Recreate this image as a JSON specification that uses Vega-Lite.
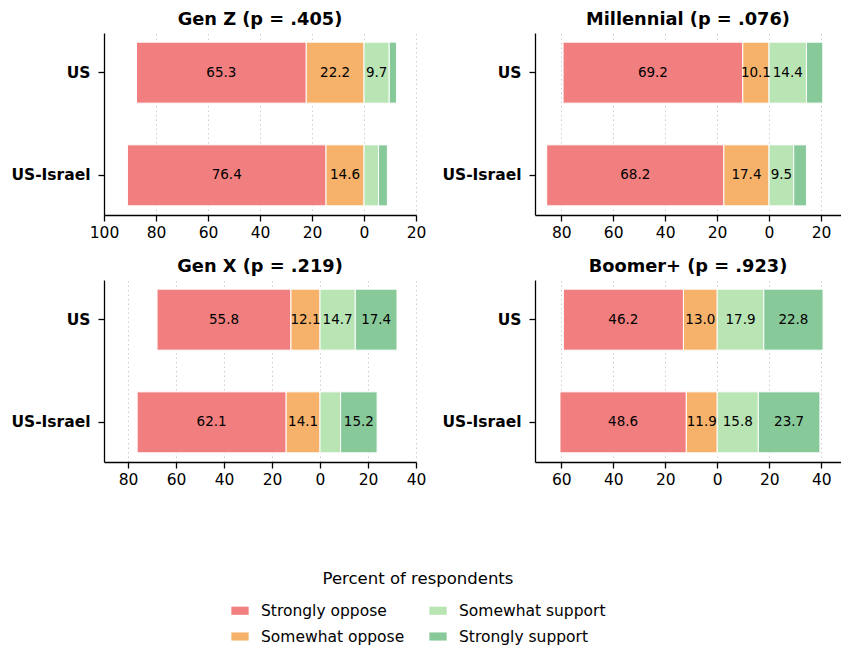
{
  "$schema": "https://vega.github.io/schema/vega-lite/v6.json",
  "padding": {"left": 10, "top": 11, "right": 0, "bottom": 0},
  "background": "white",
  "datasets": {
    "d": [
      {"gen": "Gen Z", "group": "US", "response": "Strongly oppose", "pct": -65.3},
      {"gen": "Gen Z", "group": "US", "response": "Somewhat oppose", "pct": -22.2},
      {"gen": "Gen Z", "group": "US", "response": "Somewhat support", "pct": 9.7},
      {"gen": "Gen Z", "group": "US", "response": "Strongly support", "pct": 2.8},
      {"gen": "Gen Z", "group": "US-Israel", "response": "Strongly oppose", "pct": -76.4},
      {"gen": "Gen Z", "group": "US-Israel", "response": "Somewhat oppose", "pct": -14.6},
      {"gen": "Gen Z", "group": "US-Israel", "response": "Somewhat support", "pct": 5.6},
      {"gen": "Gen Z", "group": "US-Israel", "response": "Strongly support", "pct": 3.4},
      {"gen": "Millennial", "group": "US", "response": "Strongly oppose", "pct": -69.2},
      {"gen": "Millennial", "group": "US", "response": "Somewhat oppose", "pct": -10.1},
      {"gen": "Millennial", "group": "US", "response": "Somewhat support", "pct": 14.4},
      {"gen": "Millennial", "group": "US", "response": "Strongly support", "pct": 6.3},
      {"gen": "Millennial", "group": "US-Israel", "response": "Strongly oppose", "pct": -68.2},
      {"gen": "Millennial", "group": "US-Israel", "response": "Somewhat oppose", "pct": -17.4},
      {"gen": "Millennial", "group": "US-Israel", "response": "Somewhat support", "pct": 9.5},
      {"gen": "Millennial", "group": "US-Israel", "response": "Strongly support", "pct": 4.9},
      {"gen": "Gen X", "group": "US", "response": "Strongly oppose", "pct": -55.8},
      {"gen": "Gen X", "group": "US", "response": "Somewhat oppose", "pct": -12.1},
      {"gen": "Gen X", "group": "US", "response": "Somewhat support", "pct": 14.7},
      {"gen": "Gen X", "group": "US", "response": "Strongly support", "pct": 17.4},
      {"gen": "Gen X", "group": "US-Israel", "response": "Strongly oppose", "pct": -62.1},
      {"gen": "Gen X", "group": "US-Israel", "response": "Somewhat oppose", "pct": -14.1},
      {"gen": "Gen X", "group": "US-Israel", "response": "Somewhat support", "pct": 8.6},
      {"gen": "Gen X", "group": "US-Israel", "response": "Strongly support", "pct": 15.2},
      {"gen": "Boomer+", "group": "US", "response": "Strongly oppose", "pct": -46.2},
      {"gen": "Boomer+", "group": "US", "response": "Somewhat oppose", "pct": -13.0},
      {"gen": "Boomer+", "group": "US", "response": "Somewhat support", "pct": 17.9},
      {"gen": "Boomer+", "group": "US", "response": "Strongly support", "pct": 22.8},
      {"gen": "Boomer+", "group": "US-Israel", "response": "Strongly oppose", "pct": -48.6},
      {"gen": "Boomer+", "group": "US-Israel", "response": "Somewhat oppose", "pct": -11.9},
      {"gen": "Boomer+", "group": "US-Israel", "response": "Somewhat support", "pct": 15.8},
      {"gen": "Boomer+", "group": "US-Israel", "response": "Strongly support", "pct": 23.7}
    ]
  },
  "config": {
    "font": "DejaVu Sans",
    "view": {"stroke": null},
    "axis": {
      "domainColor": "black", "domainWidth": 1.3,
      "tickColor": "black", "tickWidth": 1.3, "tickSize": 6,
      "labelColor": "black", "labelFontSize": 15.5, "labelFont": "DejaVu Sans",
      "labelFlush": false, "labelOverlap": false,
      "title": null
    },
    "axisX": {"grid": true, "gridColor": "#cccccc", "gridDash": [1.5, 3], "gridWidth": 1, "labelPadding": 4},
    "axisY": {"grid": false, "labelFontWeight": "bold", "labelPadding": 8},
    "title": {"fontSize": 17.8, "fontWeight": "bold", "color": "black", "font": "DejaVu Sans", "frame": "group", "anchor": "middle", "offset": 4},
    "legend": {
      "direction": "horizontal", "columns": 2,
      "titleAnchor": "middle", "titleFontSize": 16.5, "titleFontWeight": "normal", "titleColor": "black", "titleLimit": 500,
      "labelFontSize": 15.5, "labelColor": "black", "labelFont": "DejaVu Sans", "titleFont": "DejaVu Sans", "labelLimit": 400,
      "symbolType": "M-1,-0.47H1V0.47H-1Z", "symbolSize": 300, "symbolStrokeWidth": 0,
      "columnPadding": 24, "rowPadding": 8, "titlePadding": 14, "labelOffset": 12
    }
  },
  "columns": 2,
  "spacing": {"row": 17, "column": 15},
  "concat": [
    {
      "title": "Gen Z (p = .405)",
      "width": 312, "height": 182,
      "data": {"name": "d"},
      "transform": [
        {"filter": "datum.gen == 'Gen Z'"},
        {"stack": "pct", "groupby": ["group"], "sort": [{"field": "response", "order": "ascending"}], "as": ["x0", "x1"]},
        {"calculate": "(datum.x0 + datum.x1) / 2", "as": "mid"},
        {"calculate": "format(abs(datum.pct), '.1f')", "as": "label"}
      ],
      "encoding": {
        "y": {"field": "group", "type": "nominal", "scale": {"domain": ["US", "US-Israel"], "paddingInner": 0.406, "paddingOuter": 0.089}}
      },
      "layer": [
        {
          "mark": {"type": "bar", "stroke": "white", "strokeWidth": 1},
          "encoding": {
            "x": {"field": "x0", "type": "quantitative", "scale": {"domain": [-100, 20], "nice": false, "zero": false},
                  "axis": {"values": [-100, -80, -60, -40, -20, 0, 20], "labelExpr": "format(abs(datum.value), 'd')"}},
            "x2": {"field": "x1"},
            "color": {"field": "response", "type": "nominal",
                      "scale": {"domain": ["Strongly oppose", "Somewhat support", "Somewhat oppose", "Strongly support"],
                                "range": ["#f27f7f", "#b9e4b4", "#f6b26b", "#88c99a"]},
                      "legend": {"title": "Percent of respondents", "orient": "none", "legendX": 127, "legendY": 538}}
          }
        },
        {"mark": {"type": "rule", "color": "black", "strokeWidth": 1.5}, "encoding": {"x": {"datum": 0}}},
        {
          "transform": [{"filter": "abs(datum.pct) >= 9"}],
          "mark": {"type": "text", "fontSize": 13.5, "color": "black", "baseline": "middle"},
          "encoding": {"x": {"field": "mid", "type": "quantitative"}, "text": {"field": "label"}}
        }
      ]
    },
    {
      "title": "Millennial (p = .076)",
      "width": 306, "height": 182,
      "data": {"name": "d"},
      "transform": [
        {"filter": "datum.gen == 'Millennial'"},
        {"stack": "pct", "groupby": ["group"], "sort": [{"field": "response", "order": "ascending"}], "as": ["x0", "x1"]},
        {"calculate": "(datum.x0 + datum.x1) / 2", "as": "mid"},
        {"calculate": "format(abs(datum.pct), '.1f')", "as": "label"}
      ],
      "encoding": {
        "y": {"field": "group", "type": "nominal", "scale": {"domain": ["US", "US-Israel"], "paddingInner": 0.406, "paddingOuter": 0.089}}
      },
      "layer": [
        {
          "mark": {"type": "bar", "stroke": "white", "strokeWidth": 1},
          "encoding": {
            "x": {"field": "x0", "type": "quantitative", "scale": {"domain": [-90.1, 27.7], "nice": false, "zero": false},
                  "axis": {"values": [-80, -60, -40, -20, 0, 20], "labelExpr": "format(abs(datum.value), 'd')"}},
            "x2": {"field": "x1"},
            "color": {"field": "response", "type": "nominal"}
          }
        },
        {"mark": {"type": "rule", "color": "black", "strokeWidth": 1.5}, "encoding": {"x": {"datum": 0}}},
        {
          "transform": [{"filter": "abs(datum.pct) >= 9"}],
          "mark": {"type": "text", "fontSize": 13.5, "color": "black", "baseline": "middle"},
          "encoding": {"x": {"field": "mid", "type": "quantitative"}, "text": {"field": "label"}}
        }
      ]
    },
    {
      "title": "Gen X (p = .219)",
      "width": 312, "height": 182,
      "data": {"name": "d"},
      "transform": [
        {"filter": "datum.gen == 'Gen X'"},
        {"stack": "pct", "groupby": ["group"], "sort": [{"field": "response", "order": "ascending"}], "as": ["x0", "x1"]},
        {"calculate": "(datum.x0 + datum.x1) / 2", "as": "mid"},
        {"calculate": "format(abs(datum.pct), '.1f')", "as": "label"}
      ],
      "encoding": {
        "y": {"field": "group", "type": "nominal", "scale": {"domain": ["US", "US-Israel"], "paddingInner": 0.406, "paddingOuter": 0.089}}
      },
      "layer": [
        {
          "mark": {"type": "bar", "stroke": "white", "strokeWidth": 1},
          "encoding": {
            "x": {"field": "x0", "type": "quantitative", "scale": {"domain": [-90, 40], "nice": false, "zero": false},
                  "axis": {"values": [-80, -60, -40, -20, 0, 20, 40], "labelExpr": "format(abs(datum.value), 'd')"}},
            "x2": {"field": "x1"},
            "color": {"field": "response", "type": "nominal"}
          }
        },
        {"mark": {"type": "rule", "color": "black", "strokeWidth": 1.5}, "encoding": {"x": {"datum": 0}}},
        {
          "transform": [{"filter": "abs(datum.pct) >= 9"}],
          "mark": {"type": "text", "fontSize": 13.5, "color": "black", "baseline": "middle"},
          "encoding": {"x": {"field": "mid", "type": "quantitative"}, "text": {"field": "label"}}
        }
      ]
    },
    {
      "title": "Boomer+ (p = .923)",
      "width": 306, "height": 182,
      "data": {"name": "d"},
      "transform": [
        {"filter": "datum.gen == 'Boomer+'"},
        {"stack": "pct", "groupby": ["group"], "sort": [{"field": "response", "order": "ascending"}], "as": ["x0", "x1"]},
        {"calculate": "(datum.x0 + datum.x1) / 2", "as": "mid"},
        {"calculate": "format(abs(datum.pct), '.1f')", "as": "label"}
      ],
      "encoding": {
        "y": {"field": "group", "type": "nominal", "scale": {"domain": ["US", "US-Israel"], "paddingInner": 0.406, "paddingOuter": 0.089}}
      },
      "layer": [
        {
          "mark": {"type": "bar", "stroke": "white", "strokeWidth": 1},
          "encoding": {
            "x": {"field": "x0", "type": "quantitative", "scale": {"domain": [-70.1, 47.6], "nice": false, "zero": false},
                  "axis": {"values": [-60, -40, -20, 0, 20, 40], "labelExpr": "format(abs(datum.value), 'd')"}},
            "x2": {"field": "x1"},
            "color": {"field": "response", "type": "nominal"}
          }
        },
        {"mark": {"type": "rule", "color": "black", "strokeWidth": 1.5}, "encoding": {"x": {"datum": 0}}},
        {
          "transform": [{"filter": "abs(datum.pct) >= 9"}],
          "mark": {"type": "text", "fontSize": 13.5, "color": "black", "baseline": "middle"},
          "encoding": {"x": {"field": "mid", "type": "quantitative"}, "text": {"field": "label"}}
        }
      ]
    }
  ]
}
